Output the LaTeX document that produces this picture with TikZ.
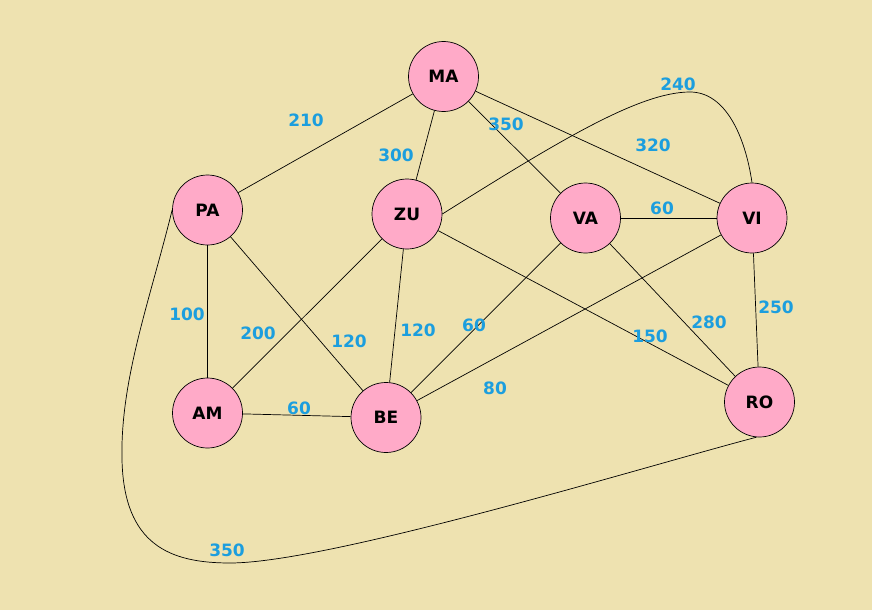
\documentclass[tikz,border=0pt]{standalone}
\usepackage{fontspec}
\setmainfont{DejaVu Sans}
\definecolor{bgcol}{RGB}{238,226,176}
\definecolor{nodepink}{RGB}{255,170,200}
\definecolor{wtblue}{RGB}{28,158,222}
\begin{document}
\begin{tikzpicture}[x=1pt,y=-1pt,
  city/.style={circle, draw=black, line width=0.7pt, fill=nodepink, minimum size=70pt, inner sep=0pt, font=\fontsize{17}{17}\selectfont\bfseries},
  wt/.style={text=wtblue, font=\fontsize{17}{17}\selectfont\bfseries, inner sep=0pt},
  link/.style={line width=0.7pt, draw=black}]
\fill[bgcol] (0,0) rectangle (872,610);
\useasboundingbox (0,0) rectangle (872,610);
% cities
\node[city] (MA) at (443.5,76.5) {MA};
\node[city] (PA) at (207.5,210) {PA};
\node[city] (ZU) at (407,214) {ZU};
\node[city] (VA) at (585.5,218) {VA};
\node[city] (VI) at (752,218) {VI};
\node[city] (AM) at (207.5,413) {AM};
\node[city] (BE) at (386,417.5) {BE};
\node[city] (RO) at (759.5,402) {RO};
% connectors
\draw[link] (MA) -- (PA);
\draw[link] (MA) -- (ZU);
\draw[link] (MA) -- (VA);
\draw[link] (MA) -- (VI);
\draw[link] (PA) -- (AM);
\draw[link] (PA) -- (BE);
\draw[link] (ZU) -- (AM);
\draw[link] (ZU) -- (BE);
\draw[link] (ZU) -- (RO);
\draw[link] (VA) -- (VI);
\draw[link] (VA) -- (BE);
\draw[link] (VA) -- (RO);
\draw[link] (VI) -- (RO);
\draw[link] (VI) -- (BE);
\draw[link] (AM) -- (BE);
\draw[link] (ZU.east) .. controls (560,140) and (640,92) .. (690,92)
  .. controls (725,92) and (745,135) .. (VI.north);
\draw[link] (PA.west) .. controls (150,300) and (120,380) .. (122,460)
  .. controls (124,545) and (170,563) .. (230,563)
  .. controls (330,563) and (650,465) .. (RO.265);
% weights
\node[wt] (w1) at (306,120) {210};
\node[wt] (w2) at (396,155) {300};
\node[wt] (w3) at (506,124) {350};
\node[wt] (w4) at (653,145) {320};
\node[wt] (w5) at (678,84) {240};
\node[wt] (w6) at (662,208) {60};
\node[wt] (w7) at (187,314) {100};
\node[wt] (w8) at (258,333) {200};
\node[wt] (w9) at (349,341) {120};
\node[wt] (w10) at (418,330) {120};
\node[wt] (w11) at (299,408) {60};
\node[wt] (w12) at (474,325) {60};
\node[wt] (w13) at (495,388) {80};
\node[wt] (w14) at (650,336) {150};
\node[wt] (w15) at (709,322) {280};
\node[wt] (w16) at (776,307) {250};
\node[wt] (w17) at (227,550) {350};
\end{tikzpicture}
\end{document}
